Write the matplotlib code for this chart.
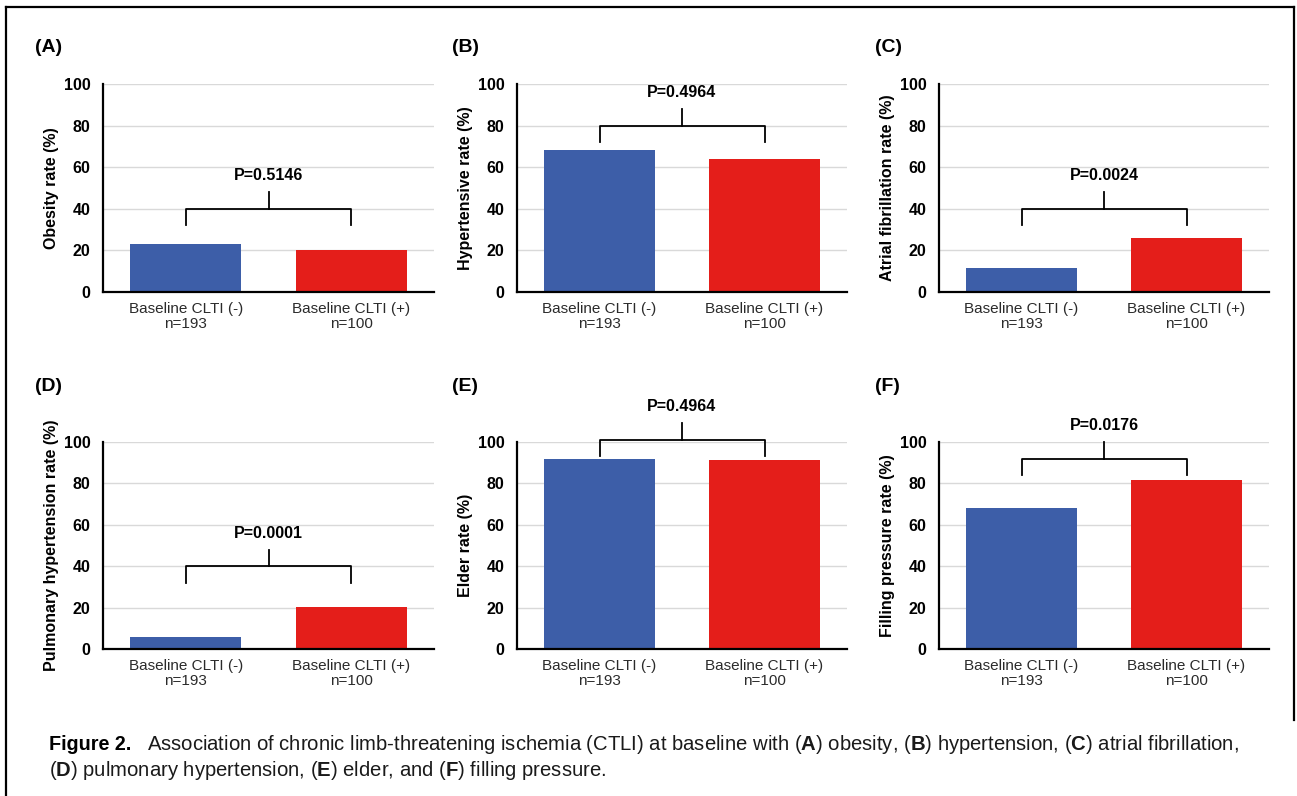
import matplotlib
matplotlib.use("Agg")
import matplotlib.pyplot as plt
from matplotlib.lines import Line2D

plt.rcParams['font.family'] = ['Liberation Sans', 'DejaVu Sans']
plt.rcParams['mathtext.fontset'] = 'custom'
plt.rcParams['mathtext.rm'] = 'Liberation Sans'
plt.rcParams['mathtext.bf'] = 'Liberation Sans:bold'

# ---- data ----
groups = ["Baseline CLTI (-)\nn=193", "Baseline CLTI (+)\nn=100"]
panel_tags = ["(A)", "(B)", "(C)", "(D)", "(E)", "(F)"]
ylabels = ["Obesity rate (%)", "Hypertensive rate (%)", "Atrial fibrillation rate (%)",
           "Pulmonary hypertension rate (%)", "Elder rate (%)", "Filling pressure rate (%)"]
clti_neg = [23.3, 68.2, 11.7, 5.8, 92.0, 68.3]
clti_pos = [20.0, 64.0, 25.9, 20.5, 91.5, 81.5]
p_labels = ["P=0.5146", "P=0.4964", "P=0.0024", "P=0.0001", "P=0.4964", "P=0.0176"]
bracket_y = [40, 80, 40, 40, 101, 92]

BLUE = "#3d5ea8"
RED = "#e41e1a"

W, H = 1297, 796
fig = plt.figure(figsize=(W / 100, H / 100), dpi=100)

# axes boxes in pixels: left, top, right, bottom
col_x = [(103, 434), (517, 847), (939, 1269)]
row_y = [(84, 292), (442, 649)]
tag_xy = [(35, 47), (452, 47), (875, 47), (35, 386), (452, 386), (875, 386)]

for i in range(6):
    r, c = divmod(i, 3)
    x0, x1 = col_x[c]
    y0, y1 = row_y[r]
    ax = fig.add_axes([x0 / W, 1 - y1 / H, (x1 - x0) / W, (y1 - y0) / H])

    ax.bar([0, 1], [clti_neg[i], clti_pos[i]], width=0.67,
           color=[BLUE, RED], zorder=3)
    ax.set_xlim(-0.5, 1.5)
    ax.set_ylim(0, 100)
    ax.set_yticks([0, 20, 40, 60, 80, 100])
    ax.set_xticks([0, 1])
    ax.set_xticklabels(groups, fontsize=11, color="#2b2b2b", linespacing=1.1)
    for t in ax.get_yticklabels():
        t.set_fontweight("bold")
        t.set_fontsize(11.5)
    ax.tick_params(axis="both", length=0)
    ax.tick_params(axis="y", pad=9)
    ax.tick_params(axis="x", pad=7)

    ax.grid(axis="y", color="#d9d9d9", lw=1.0)
    ax.set_axisbelow(True)
    for s in ["top", "right"]:
        ax.spines[s].set_visible(False)
    for s in ["left", "bottom"]:
        ax.spines[s].set_linewidth(1.6)
        ax.spines[s].set_color("black")
        ax.spines[s].set_zorder(4)

    ax.set_ylabel(ylabels[i], fontsize=11.5, fontweight="bold")
    ax.yaxis.set_label_coords(-0.133, 0.5)

    # significance bracket
    h = bracket_y[i]
    ax.plot([0, 0, 1, 1], [h - 8, h, h, h - 8], color="black", lw=1.3,
            clip_on=False, zorder=5)
    ax.plot([0.5, 0.5], [h, h + 8], color="black", lw=1.3, clip_on=False, zorder=5)
    ax.text(0.5, h + 16, p_labels[i], ha="center", va="center",
            fontsize=11.5, fontweight="bold", clip_on=False)

    tx, ty = tag_xy[i]
    fig.text(tx / W, 1 - ty / H, panel_tags[i], ha="left", va="center",
             fontsize=14, fontweight="bold")

# outer frame
fig.add_artist(Line2D([6 / W, 6 / W], [0, 1 - 7 / H], color="black", lw=1.6))
fig.add_artist(Line2D([6 / W, 1294 / W], [1 - 7 / H, 1 - 7 / H], color="black", lw=1.6))
fig.add_artist(Line2D([1294 / W, 1294 / W], [1 - 720 / H, 1 - 7 / H], color="black", lw=1.6))

# caption
fig.text(49 / W, 1 - 745 / H, "Figure 2.", ha="left", va="center",
         fontsize=14.2, fontweight="bold",
         family=["Liberation Sans Narrow", "Liberation Sans"])
fig.text(147 / W, 1 - 745 / H,
         r"Association of chronic limb-threatening ischemia (CTLI) at baseline with "
         r"($\mathbf{A}$) obesity, ($\mathbf{B}$) hypertension, ($\mathbf{C}$) atrial fibrillation,",
         ha="left", va="center", fontsize=14.6, color="#1a1a1a")
fig.text(49 / W, 1 - 770 / H,
         r"($\mathbf{D}$) pulmonary hypertension, ($\mathbf{E}$) elder, and ($\mathbf{F}$) filling pressure.",
         ha="left", va="center", fontsize=14.6, color="#1a1a1a")

fig.savefig("out.png", dpi=100)
